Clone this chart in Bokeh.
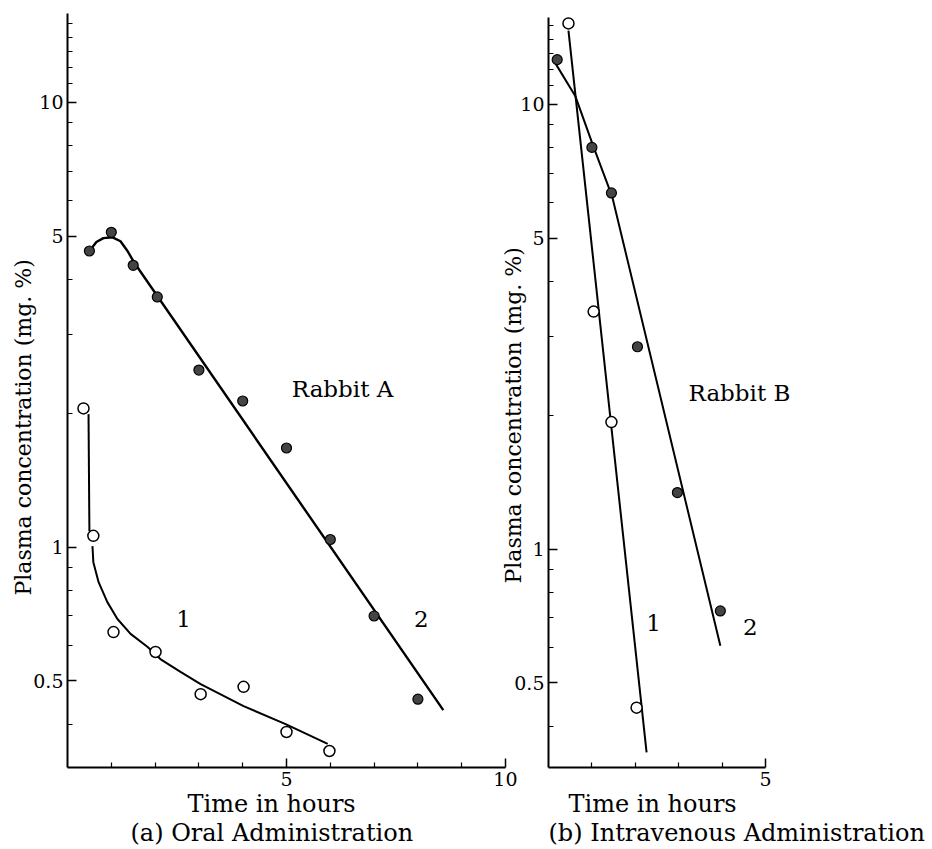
from bokeh.plotting import figure
from bokeh.models import (Range1d, FixedTicker, NumeralTickFormatter, Label, Title)
from bokeh.layouts import row
from bokeh.embed import file_html
from bokeh.resources import INLINE

# ---------------- data ----------------
# (a) Oral administration, Rabbit A
a1_t = [0.365, 0.59, 1.05, 2.01, 3.04, 4.02, 5.0, 5.98]          # open circles, curve 1
a1_v = [2.05, 1.06, 0.644, 0.581, 0.467, 0.485, 0.384, 0.348]
a2_t = [0.5, 1.0, 1.5, 2.05, 3.0, 4.0, 5.0, 6.0, 7.0, 8.0]         # filled circles, curve 2
a2_v = [4.63, 5.10, 4.30, 3.65, 2.50, 2.13, 1.67, 1.04, 0.70, 0.455]
a1_drop_t = [0.48, 0.50]
a1_drop_v = [1.99, 1.086]
a1_curve_t = [0.57, 0.59, 0.71, 0.91, 1.14, 1.44, 1.83, 2.12, 2.58, 3.04, 4.02, 4.98, 5.94]
a1_curve_v = [1.005, 0.925, 0.834, 0.752, 0.689, 0.638, 0.596, 0.56, 0.524, 0.492, 0.439, 0.40, 0.361]
a2_curve_t = [0.5, 0.66, 0.82, 1.03, 1.21, 1.37, 1.53, 8.58]
a2_curve_v = [4.63, 4.85, 4.95, 4.97, 4.87, 4.63, 4.35, 0.43]

# (b) Intravenous administration, Rabbit B
b1_t = [0.46, 1.04, 1.45, 2.03]                                   # open circles, line 1
b1_v = [15.2, 3.42, 1.93, 0.44]
b2_t = [0.2, 1.0, 1.45, 2.05, 2.97, 3.96]                         # filled circles, line 2
b2_v = [12.6, 8.0, 6.32, 2.85, 1.34, 0.726]
b1_line_t = [0.46, 2.26]
b1_line_v = [14.65, 0.349]
b2_line_t = [0.16, 0.62, 1.04, 1.47, 3.96]
b2_line_v = [12.36, 10.42, 8.01, 6.19, 0.606]

y_major = [0.5, 1, 5, 10]
y_minor = [0.4, 0.6, 0.7, 0.8, 0.9, 2, 3, 4, 6, 7, 8, 9, 11, 12, 13, 14, 15]
xa_major = [5, 10]
xa_minor = [1, 2, 3, 4, 6, 7, 8, 9]
xb_major = [5]
xb_minor = [1, 2, 3, 4]

FONT = "DejaVu Serif"
H = 846


def style_axes(p):
    for ax in (p.xaxis[0], p.yaxis[0]):
        ax.axis_line_width = 2
        ax.axis_line_color = "black"
        ax.major_tick_in = 9
        ax.major_tick_out = 0
        ax.minor_tick_in = 5
        ax.minor_tick_out = 0
        ax.major_tick_line_width = 1.5
        ax.minor_tick_line_width = 1.2
        ax.major_tick_line_color = "black"
        ax.minor_tick_line_color = "black"
        ax.major_label_text_font = FONT
        ax.major_label_text_font_size = "19px"
        ax.major_label_text_color = "black"
        ax.major_label_standoff = 4
    p.yaxis[0].formatter = NumeralTickFormatter(format="0.[0]")
    p.grid.visible = False
    p.outline_line_color = None


def add_title(p, txt, side, offset, standoff, size="24px"):
    p.add_layout(Title(text=txt, align="left", offset=offset, text_font=FONT,
                       text_font_size=size, text_font_style="normal",
                       text_color="black", standoff=standoff), side)


def add_text(p, x, y, txt, size="23px"):
    p.add_layout(Label(x=x, y=y, text=txt, text_font=FONT, text_font_size=size,
                       text_align="center", text_baseline="middle", text_color="black"))


def add_points(p, ot, ov, ft, fv):
    p.scatter(ot, ov, marker="circle", size=11, fill_color="white",
              line_color="black", line_width=1.5)
    p.scatter(ft, fv, marker="circle", size=10, fill_color="#444444",
              line_color="black", line_width=1.2)


# ---------------- (a) ----------------
pa = figure(width=517, height=H, x_range=Range1d(0, 10), y_range=Range1d(0.3195, 15.83),
            y_axis_type="log", output_backend="svg", toolbar_location=None,
            min_border_left=67, min_border_right=12, min_border_top=13, min_border_bottom=60,
            background_fill_color="white", border_fill_color="white")
style_axes(pa)
pa.xaxis[0].ticker = FixedTicker(ticks=xa_major, minor_ticks=xa_minor)
pa.yaxis[0].ticker = FixedTicker(ticks=y_major, minor_ticks=y_minor)

pa.line(a1_drop_t, a1_drop_v, line_width=2, line_color="black")
pa.line(a1_curve_t, a1_curve_v, line_width=2, line_color="black")
pa.line(a2_curve_t, a2_curve_v, line_width=2.4, line_color="black")
add_points(pa, a1_t, a1_v, a2_t, a2_v)
add_text(pa, 6.28, 2.265, "Rabbit A")
add_text(pa, 2.65, 0.689, "1")
add_text(pa, 8.08, 0.689, "2")

add_title(pa, "Plasma concentration (mg. %)", "left", 172, -10, size="22px")
add_title(pa, "Time in hours", "below", 120, -2)
add_title(pa, "(a)  Oral Administration", "below", 63, 0)

# ---------------- (b) ----------------
pb = figure(width=441, height=H, x_range=Range1d(0, 5.922), y_range=Range1d(0.3228, 16.0),
            y_axis_type="log", output_backend="svg", toolbar_location=None,
            min_border_left=59, min_border_right=125, min_border_top=13, min_border_bottom=60,
            background_fill_alpha=0, border_fill_alpha=0)
pb.margin = (0, 0, 0, -28)
style_axes(pb)
pb.xaxis[0].ticker = FixedTicker(ticks=xb_major, minor_ticks=xb_minor)
pb.xaxis[0].bounds = (0, 5)
pb.yaxis[0].ticker = FixedTicker(ticks=y_major, minor_ticks=y_minor)
pb.yaxis[0].bounds = (0.3228, 15.67)

pb.line(b1_line_t, b1_line_v, line_width=2, line_color="black")
pb.line(b2_line_t, b2_line_v, line_width=2, line_color="black")
add_points(pb, b1_t, b1_v, b2_t, b2_v)
add_text(pb, 4.40, 2.24, "Rabbit B")
add_text(pb, 2.42, 0.683, "1")
add_text(pb, 4.65, 0.668, "2")

add_title(pb, "Plasma concentration (mg. %)", "left", 184, -28, size="22px")
add_title(pb, "Time in hours", "below", 20, -2)
add_title(pb, "(b)  Intravenous Administration", "below", 0, 0)

layout = row(pa, pb)
open("out.html", "w").write(file_html(layout, INLINE))
